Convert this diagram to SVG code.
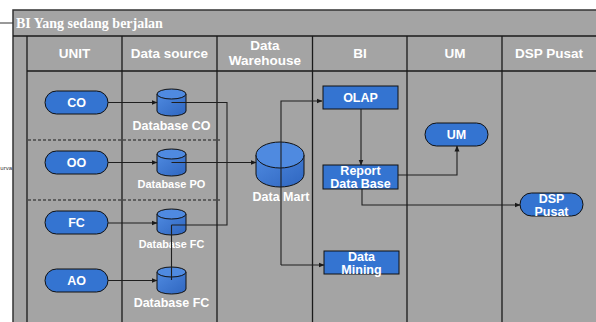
<svg xmlns="http://www.w3.org/2000/svg" width="596" height="322" viewBox="0 0 596 322">
<defs>
<style>
.frame{fill:#a4a4a4;stroke:#333;stroke-width:1.5}
.ln{stroke:#1a1a1a;stroke-width:1.3;fill:none}
.dash{stroke:#1a1a1a;stroke-width:1;stroke-dasharray:3,2;fill:none}
.con{stroke:#1f1f1f;stroke-width:1.1;fill:none}
.arr{marker-end:url(#ah)}
.node{fill:#3474d1;stroke:#111;stroke-width:1}
.cyl{fill:url(#cg);stroke:#111;stroke-width:1}
.cyltop{fill:#4f8ae0;stroke:#111;stroke-width:1}
.hd{font-family:"Liberation Sans",Arial,sans-serif;font-weight:bold;font-size:13.5px;fill:#fff;text-anchor:middle}
.t{font-family:"Liberation Sans",Arial,sans-serif;font-weight:bold;font-size:12.5px;fill:#fff;text-anchor:middle}
.lbl{font-family:"Liberation Sans",Arial,sans-serif;font-weight:bold;fill:#fff;text-anchor:middle}
.title{font-family:"Liberation Serif","Times New Roman",serif;font-weight:bold;font-size:14px;fill:#fff}
</style>
<linearGradient id="cg" x1="0" y1="0" x2="1" y2="1">
<stop offset="0" stop-color="#4f8ae0"/>
<stop offset="1" stop-color="#2f66c0"/>
</linearGradient>
<marker id="ah" markerWidth="6" markerHeight="6" refX="5.5" refY="3" orient="auto" markerUnits="userSpaceOnUse">
<path d="M0,0.5 L6,3 L0,5.5 Z" fill="#1a1a1a"/>
</marker>
</defs>
<rect x="0" y="0" width="596" height="322" fill="#fff"/>
<g id="frame">
<rect class="frame" x="13" y="10" width="600" height="330"/>
<line class="ln" x1="13" y1="36" x2="596" y2="36"/>
<line class="ln" x1="27" y1="71" x2="596" y2="71"/>
<line class="ln" x1="27" y1="36" x2="27" y2="322"/>
<line class="ln" x1="122" y1="36" x2="122" y2="322"/>
<line class="ln" x1="217" y1="36" x2="217" y2="322"/>
<line class="ln" x1="312.5" y1="36" x2="312.5" y2="322"/>
<line class="ln" x1="407" y1="36" x2="407" y2="322"/>
<line class="ln" x1="502" y1="36" x2="502" y2="322"/>
<line class="dash" x1="28" y1="140" x2="220" y2="140"/>
<line class="dash" x1="28" y1="200" x2="220" y2="200"/>
<line stroke="#333" stroke-width="1" x1="0" y1="23" x2="13" y2="23"/>
<text class="title" x="16" y="28">BI Yang sedang berjalan</text>
<text x="12" y="170" font-family="Liberation Sans,Arial,sans-serif" font-size="6" fill="#333" text-anchor="end">urva</text>
</g>
<g id="headers">
<text class="hd" x="74.5" y="58">UNIT</text>
<text class="hd" x="169.5" y="58">Data source</text>
<text class="hd" x="265" y="50">Data</text>
<text class="hd" x="265" y="65">Warehouse</text>
<text class="hd" x="360" y="58">BI</text>
<text class="hd" x="455" y="58">UM</text>
<text class="hd" x="549" y="58">DSP Pusat</text>
</g>
<g id="node-co"><rect class="node" x="45" y="91" width="63" height="23" rx="11.5"/><text class="t" x="76.5" y="107">CO</text></g>
<g id="node-oo"><rect class="node" x="45" y="151" width="63" height="23" rx="11.5"/><text class="t" x="76.5" y="167">OO</text></g>
<g id="node-fc"><rect class="node" x="45" y="211" width="63" height="23" rx="11.5"/><text class="t" x="76.5" y="227">FC</text></g>
<g id="node-ao"><rect class="node" x="45" y="269" width="63" height="23" rx="11.5"/><text class="t" x="76.5" y="285">AO</text></g>
<g id="db-co"><path class="cyl" d="M157,94 V111 A14.5,5 0 0 0 186,111 V94 Z"/><ellipse class="cyltop" cx="171.5" cy="94" rx="14.5" ry="5"/><text class="lbl" font-size="12.5" x="171.5" y="130">Database CO</text></g>
<g id="db-po"><path class="cyl" d="M157,154 V171 A14.5,5 0 0 0 186,171 V154 Z"/><ellipse class="cyltop" cx="171.5" cy="154" rx="14.5" ry="5"/><text class="lbl" font-size="11" x="171.5" y="188">Database PO</text></g>
<g id="db-fc1"><path class="cyl" d="M157,214 V230 A14.5,5 0 0 0 186,230 V214 Z"/><ellipse class="cyltop" cx="171.5" cy="214" rx="14.5" ry="5"/><text class="lbl" font-size="10.8" x="171.5" y="248">Database FC</text></g>
<g id="db-fc2"><path class="cyl" d="M157,272 V289 A14.5,5 0 0 0 186,289 V272 Z"/><ellipse class="cyltop" cx="171.5" cy="272" rx="14.5" ry="5"/><text class="lbl" font-size="12.5" x="171.5" y="307">Database FC</text></g>
<g id="data-mart"><path class="cyl" d="M256,155 V174 A24,13 0 0 0 304,174 V155 Z"/><ellipse class="cyltop" cx="280" cy="155" rx="24" ry="13"/><text class="lbl" font-size="12.5" x="281" y="201">Data Mart</text></g>
<g id="olap"><rect class="node" x="323" y="86" width="75" height="23"/><text class="t" x="360.5" y="102">OLAP</text></g>
<g id="report"><rect class="node" x="323" y="165" width="75" height="24"/><text class="t" x="360.5" y="175">Report</text><text class="t" x="360.5" y="188">Data Base</text></g>
<g id="mining"><rect class="node" x="324" y="251" width="75" height="23"/><text class="t" x="361.5" y="261">Data</text><text class="t" x="361.5" y="274">Mining</text></g>
<g id="um"><rect class="node" x="425" y="123" width="63" height="23" rx="11.5"/><text class="t" x="456.5" y="139">UM</text></g>
<g id="dsp"><rect class="node" x="520" y="193" width="63" height="23" rx="11.5"/><text class="t" x="551.5" y="203">DSP</text><text class="t" x="551.5" y="216">Pusat</text></g>
<g id="connectors">
<path class="con arr" d="M108,102.5 H157"/>
<path class="con arr" d="M108,162.5 H157"/>
<path class="con arr" d="M108,223 H157"/>
<path class="con arr" d="M108,280.5 H157"/>
<path class="con" d="M171.5,102.5 H227 V225 H171.5"/>
<path class="con" d="M171.5,280 V225"/>
<path class="con arr" d="M171.5,162.5 H256"/>
<path class="con arr" d="M281,265 V101 H322"/>
<path class="con arr" d="M281,265 H324"/>
<path class="con arr" d="M361,109 V165"/>
<path class="con arr" d="M398,175 H457 V146"/>
<path class="con arr" d="M362,189 V205 H520"/>
</g>
</svg>
